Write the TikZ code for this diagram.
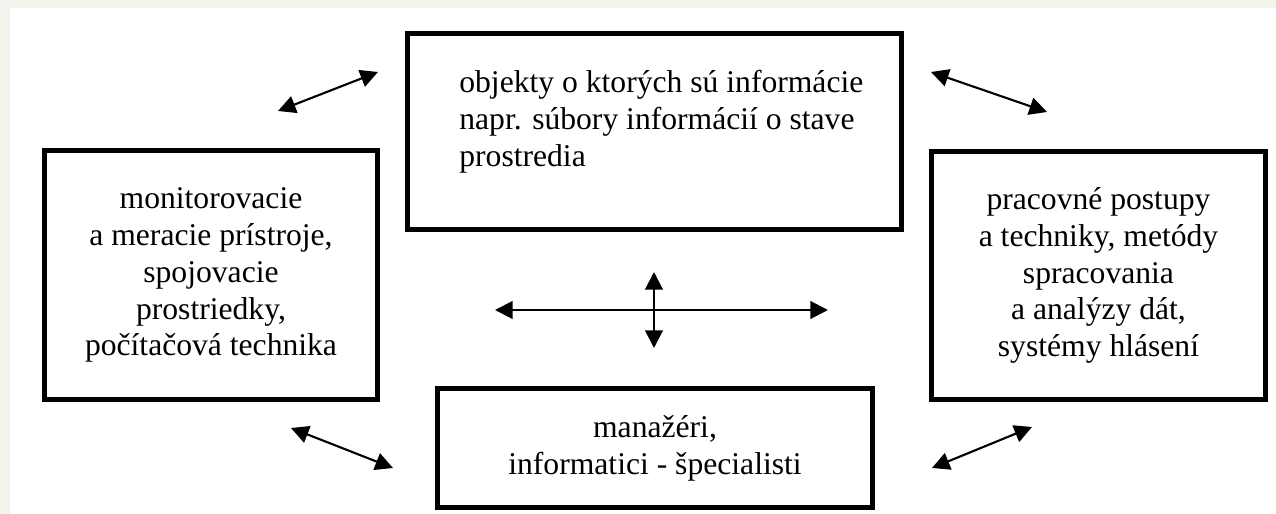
\documentclass[tikz,border=0pt]{standalone}
\usepackage{fontspec}
\setmainfont{Liberation Serif}
\usetikzlibrary{arrows.meta,positioning}
\definecolor{framegray}{RGB}{243,245,236}

\begin{document}
\begin{tikzpicture}[x=0.02cm, y=-0.02cm,
    box/.style={draw, line width=2.8pt, inner sep=0pt, align=center, font=\fontsize{18}{21}\selectfont},
    link/.style={{Triangle[length=10pt,width=10pt]}-{Triangle[length=10pt,width=10pt]}, line width=1.2pt}]
    % page and white panel
    \useasboundingbox (0,0) rectangle (1276,514);
    \fill[framegray] (0,0) rectangle (1276,514);
    \fill[white] (10,8) rectangle (1276,514);

    % the four boxes
    \node[box, minimum width=9.88cm, minimum height=3.92cm] (objects) at (654.5,131.5) {};
    \node[anchor=north west, inner sep=0pt, align=left, font=\fontsize{18}{21}\selectfont] (objtext) at (459,70) {objekty o ktorých sú informácie\\napr. súbory informácií o stave\\prostredia};
    \node[box, minimum width=6.66cm, minimum height=4.98cm] (devices) at (211,275) {monitorovacie\\a meracie prístroje,\\spojovacie\\prostriedky,\\počítačová technika};
    \node[box, minimum width=6.68cm, minimum height=4.96cm] (methods) at (1098.5,275.5) {pracovné postupy\\a techniky, metódy\\spracovania\\a analýzy dát,\\systémy hlásení};
    \node[box, minimum width=8.7cm, minimum height=2.38cm] (people) at (655,448) {manažéri,\\informatici - špecialisti};

    % free arrow ends
    \coordinate (tlA) at (278,111);  \coordinate (tlB) at (378,72);
    \coordinate (trA) at (931,72);   \coordinate (trB) at (1047,112);
    \coordinate (blA) at (291,428);  \coordinate (blB) at (393,468);
    \coordinate (brA) at (932,468);  \coordinate (brB) at (1032,427);
    \coordinate (hA) at (495,310);   \coordinate (hB) at (828,310);
    \coordinate (vA) at (654,272);   \coordinate (vB) at (654,348);

    \draw[link] (tlA) -- (tlB);
    \draw[link] (trA) -- (trB);
    \draw[link] (blA) -- (blB);
    \draw[link] (brA) -- (brB);
    \draw[link] (hA) -- (hB);
    \draw[link] (vA) -- (vB);
\end{tikzpicture}
\end{document}
